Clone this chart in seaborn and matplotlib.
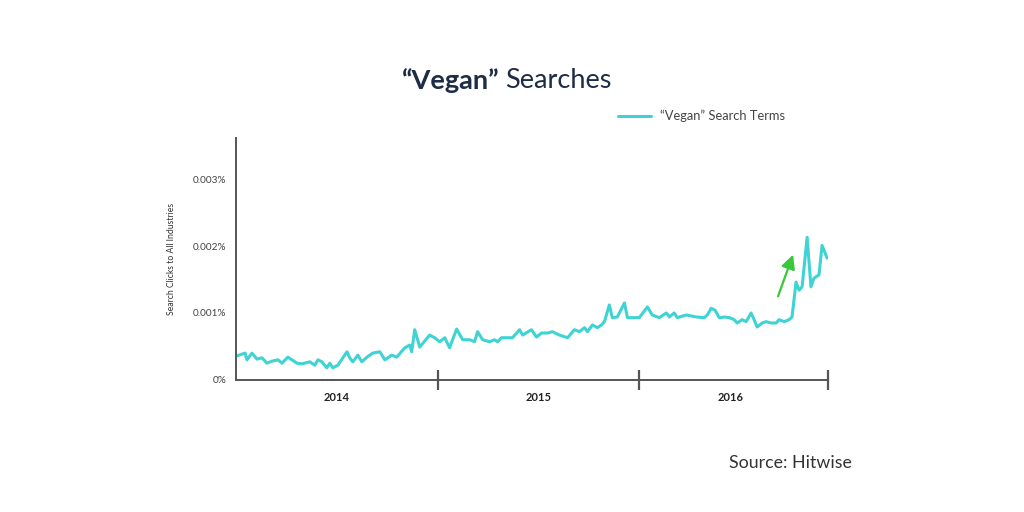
import matplotlib

matplotlib.use("Agg")
import matplotlib.pyplot as plt
import pandas as pd
import seaborn as sns

# Weekly share of search clicks (x in fractional years, y in 0.001 %)
year_pos = [
    2014.005, 2014.045, 2014.054, 2014.079, 2014.104, 2014.129, 2014.153, 2014.178,
    2014.208, 2014.228, 2014.257, 2014.277, 2014.302, 2014.327, 2014.366, 2014.391,
    2014.406, 2014.426, 2014.450, 2014.465, 2014.480, 2014.505, 2014.530, 2014.550,
    2014.564, 2014.579, 2014.604, 2014.624, 2014.649, 2014.678, 2014.713, 2014.738,
    2014.772, 2014.797, 2014.837, 2014.861, 2014.871, 2014.886, 2014.911, 2014.960,
    2014.985, 2015.010, 2015.035, 2015.059, 2015.094, 2015.124, 2015.158, 2015.183,
    2015.198, 2015.223, 2015.257, 2015.282, 2015.297, 2015.317, 2015.371, 2015.406,
    2015.421, 2015.465, 2015.490, 2015.515, 2015.545, 2015.569, 2015.604, 2015.644,
    2015.678, 2015.703, 2015.728, 2015.743, 2015.767, 2015.792, 2015.812, 2015.827,
    2015.851, 2015.866, 2015.891, 2015.926, 2015.941, 2015.975, 2016.000, 2016.040,
    2016.064, 2016.099, 2016.134, 2016.149, 2016.173, 2016.188, 2016.233, 2016.282,
    2016.322, 2016.337, 2016.356, 2016.376, 2016.396, 2016.406, 2016.421, 2016.446,
    2016.470, 2016.485, 2016.510, 2016.530, 2016.554, 2016.569, 2016.584, 2016.609,
    2016.629, 2016.653, 2016.678, 2016.693, 2016.718, 2016.743, 2016.757, 2016.777,
    2016.792, 2016.807, 2016.832, 2016.851, 2016.866, 2016.891, 2016.906, 2016.931,
]
clicks_milli_pct = [
    0.36, 0.40, 0.30, 0.40, 0.31, 0.33, 0.25, 0.28,
    0.30, 0.25, 0.34, 0.30, 0.25, 0.24, 0.27, 0.22,
    0.30, 0.27, 0.18, 0.25, 0.18, 0.22, 0.33, 0.42,
    0.33, 0.27, 0.37, 0.27, 0.34, 0.40, 0.42, 0.30,
    0.37, 0.34, 0.48, 0.52, 0.42, 0.75, 0.49, 0.67,
    0.63, 0.57, 0.63, 0.48, 0.76, 0.60, 0.60, 0.57,
    0.72, 0.60, 0.57, 0.60, 0.57, 0.63, 0.63, 0.75,
    0.67, 0.75, 0.64, 0.70, 0.70, 0.72, 0.67, 0.63,
    0.75, 0.72, 0.78, 0.72, 0.82, 0.78, 0.82, 0.87,
    1.12, 0.93, 0.94, 1.15, 0.93, 0.93, 0.93, 1.09,
    0.97, 0.93, 1.00, 0.94, 1.00, 0.93, 0.97, 0.94,
    0.93, 0.97, 1.07, 1.04, 0.93, 0.93, 0.94, 0.93,
    0.90, 0.85, 0.90, 0.87, 1.00, 0.90, 0.79, 0.85,
    0.87, 0.85, 0.85, 0.90, 0.87, 0.90, 0.94, 1.46,
    1.34, 1.39, 2.13, 1.39, 1.52, 1.57, 2.01, 1.82,
]
y_ticks = [0, 1, 2, 3]
y_tick_labels = ["0%", "0.001%", "0.002%", "0.003%"]
year_bounds = [2015, 2016, 2016.935]
year_mids = [2014.5, 2015.5, 2016.45]
year_labels = ["2014", "2015", "2016"]

LINE = "#3fd3d3"
NAVY = "#1e2d45"
GREY = "#555555"

sns.set_theme(style="white")
plt.rcParams["font.family"] = ["Lato", "DejaVu Sans"]

df = pd.DataFrame({"year": year_pos, "clicks": clicks_milli_pct})

fig = plt.figure(figsize=(10.24, 5.12), dpi=100)
ax = fig.add_axes([0.2305, 0.258, 0.578, 0.472])

sns.lineplot(data=df, x="year", y="clicks", color=LINE, linewidth=2.2, ax=ax,
             label="\u201cVegan\u201d Search Terms")

ax.set_xlim(2014.0, 2016.935)
ax.set_ylim(0, 3.61)
ax.set_yticks(y_ticks)
ax.set_yticklabels(y_tick_labels, fontsize=7.2, color="#444444")
ax.tick_params(axis="y", length=0, pad=7)

# year boundaries get tick marks, year names sit between them
ax.set_xticks(year_bounds)
ax.set_xticklabels([])
ax.tick_params(axis="x", which="major", bottom=True, direction="inout",
               length=14, width=1.6, color=GREY)
ax.set_xticks(year_mids, minor=True)
ax.set_xticklabels(year_labels, minor=True, fontsize=8, fontweight="bold",
                   color="#222222")
ax.tick_params(axis="x", which="minor", bottom=True, length=0, pad=9)

for side in ("top", "right"):
    ax.spines[side].set_visible(False)
for side in ("left", "bottom"):
    ax.spines[side].set_color(GREY)
    ax.spines[side].set_linewidth(1.4)

ax.set_xlabel("")
ax.set_ylabel("Search Clicks to All Industries", fontsize=6.2, color="#333333",
              labelpad=12)

# green trend arrow
ax.annotate("", xy=(2016.767, 1.91), xytext=(2016.683, 1.21),
            arrowprops=dict(arrowstyle="-|>,head_width=0.35,head_length=0.7",
                            color="#37c83c", lw=1.6))

leg = ax.legend(loc="upper left", bbox_to_anchor=(0.625, 1.165), frameon=False,
                fontsize=9.3, handlelength=2.6, handletextpad=0.7)
for t in leg.get_texts():
    t.set_color("#444444")

# title: bold quoted word followed by regular text
fig.text(0.488, 0.843, "\u201cVegan\u201d", ha="right", va="center", fontsize=19.5,
         fontweight="bold", color=NAVY)
fig.text(0.493, 0.843, "Searches", ha="left", va="center", fontsize=19.5,
         color=NAVY)

fig.text(0.832, 0.095, "Source: Hitwise", ha="right", va="center", fontsize=12.8,
         color="#333333")

fig.savefig("out.png", dpi=100)
plt.close(fig)
